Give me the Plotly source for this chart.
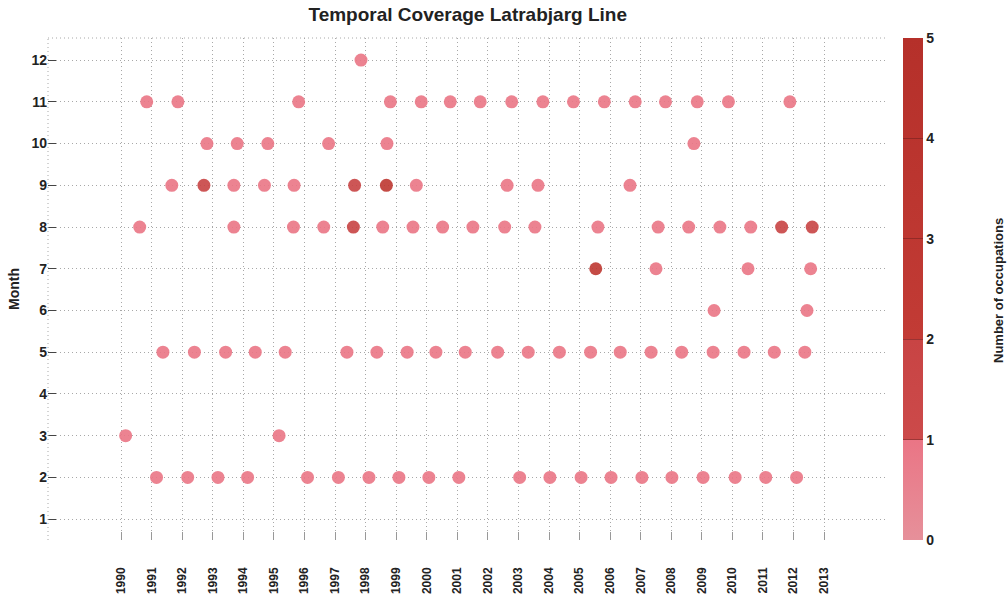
import plotly.graph_objects as go

# ---- data: decimal-year time of each occupation, grouped by month ----
t_m12 = [1997.85]
c_m12 = [1]
t_m11 = [1990.84, 1991.86, 1995.81, 1998.81, 1999.82, 2000.77, 2001.75, 2002.78, 2003.80,
         2004.80, 2005.81, 2006.82, 2007.81, 2008.85, 2009.87, 2011.88]
c_m11 = [1] * 16
t_m10 = [1992.81, 1993.80, 1994.80, 1996.79, 1998.70, 2008.74]
c_m10 = [1, 1, 1, 1, 1, 1]
t_m9 = [1991.66, 1992.71, 1993.69, 1994.69, 1995.66, 1997.64, 1998.68, 1999.66, 2002.63,
        2003.64, 2006.65]
c_m9 = [1, 2, 1, 1, 1, 2, 3, 1, 1, 1, 1]
t_m8 = [1990.61, 1993.69, 1995.64, 1996.63, 1997.60, 1998.56, 1999.55, 2000.52, 2001.51,
        2002.55, 2003.54, 2005.60, 2007.57, 2008.57, 2009.59, 2010.60, 2011.61, 2012.61]
c_m8 = [1, 1, 1, 1, 2, 1, 1, 1, 1, 1, 1, 1, 1, 1, 1, 1, 2, 2]
t_m7 = [2005.53, 2007.50, 2010.51, 2012.56]
c_m7 = [3, 1, 1, 1]
t_m6 = [2009.40, 2012.44]
c_m6 = [1, 1]
t_m5 = [1991.37, 1992.40, 1993.42, 1994.39, 1995.37, 1997.39, 1998.37, 1999.36, 2000.30,
        2001.26, 2002.32, 2003.32, 2004.34, 2005.36, 2006.33, 2007.34, 2008.34, 2009.37,
        2010.38, 2011.37, 2012.37]
c_m5 = [1] * 21
t_m3 = [1990.15, 1995.17]
c_m3 = [1, 1]
t_m2 = [1991.16, 1992.18, 1993.17, 1994.14, 1996.10, 1997.11, 1998.11, 1999.09, 2000.07,
        2001.05, 2003.04, 2004.03, 2005.05, 2006.03, 2007.04, 2008.02, 2009.04, 2010.09,
        2011.09, 2012.10]
c_m2 = [1] * 20

year_ticks = list(range(1990, 2014))
month_ticks = list(range(1, 13))
cbar_ticks = [0, 1, 2, 3, 4, 5]

groups = [(12, t_m12, c_m12), (11, t_m11, c_m11), (10, t_m10, c_m10), (9, t_m9, c_m9),
          (8, t_m8, c_m8), (7, t_m7, c_m7), (6, t_m6, c_m6), (5, t_m5, c_m5),
          (3, t_m3, c_m3), (2, t_m2, c_m2)]

xs, ys, cs = [], [], []
for m, ts, cnt in groups:
    xs += ts
    ys += [m] * len(ts)
    cs += cnt

colorscale = [
    [0.0, "#e6909a"], [0.2, "#ea7585"], [0.2001, "#cc4a4a"],
    [0.4, "#c84444"], [0.4001, "#c23b35"], [1.0, "#b5302a"],
]

FONT = "Liberation Sans, Arial, sans-serif"
GRID = "#a8a8a8"
GDASH = "1px,3px"

fig = go.Figure()
fig.add_trace(go.Scatter(
    x=xs, y=ys, mode="markers",
    marker=dict(
        size=13, color=cs, cmin=0, cmax=5, colorscale=colorscale, opacity=0.9,
        line=dict(width=0),
        colorbar=dict(
            x=1.0179, xanchor="left", xpad=0, y=0, yanchor="bottom", ypad=0,
            len=1.0, lenmode="fraction", thickness=20, outlinewidth=0,
            tickvals=cbar_ticks, ticktext=[str(v) for v in cbar_ticks],
            ticks="inside", ticklen=20, tickcolor="rgba(70,20,20,0.35)",
            tickfont=dict(family=FONT, size=14, color="#222", weight="bold"),
        ),
    ),
    showlegend=False, hoverinfo="skip",
))

fig.update_layout(
    width=1008, height=599,
    margin=dict(l=48, r=120, t=38, b=59),
    paper_bgcolor="white", plot_bgcolor="white",
    title=dict(text="<b>Temporal Coverage Latrabjarg Line</b>",
               x=0.464, xanchor="center", y=1 - 14 / 599, yanchor="middle",
               font=dict(family=FONT, size=19, color="#222")),
    xaxis=dict(
        range=[1987.61, 2015.09], tickvals=year_ticks, ticktext=[str(y) for y in year_ticks],
        tickangle=-90, ticks="inside", ticklen=8, tickcolor="#999",
        ticklabelstandoff=24,
        tickfont=dict(family=FONT, size=12, color="#222", weight="bold"),
        showgrid=True, gridcolor=GRID, griddash=GDASH, gridwidth=1,
        zeroline=False, showline=False, automargin=False,
    ),
    yaxis=dict(
        range=[0.5, 12.53], tickvals=month_ticks, ticks="inside", ticklen=8,
        tickcolor="#444",
        tickfont=dict(family=FONT, size=14, color="#222", weight="bold"),
        showgrid=True, gridcolor=GRID, griddash=GDASH, gridwidth=1,
        zeroline=False, showline=False, automargin=False,
        title=dict(text="<b>Month</b>", font=dict(family=FONT, size=14, color="#222"),
                   standoff=8),
    ),
    shapes=[
        dict(type="line", xref="paper", yref="paper", x0=0, x1=1, y0=1, y1=1,
             line=dict(color=GRID, width=1, dash=GDASH)),
        dict(type="line", xref="paper", yref="paper", x0=0, x1=0, y0=0, y1=1,
             line=dict(color=GRID, width=1, dash=GDASH)),
    ],
    annotations=[
        dict(text="<b>Number of occupations</b>", xref="paper", yref="paper",
             x=(998 - 48) / 840, y=(540 - 291) / 502, xanchor="center", yanchor="middle",
             textangle=-90, showarrow=False,
             font=dict(family=FONT, size=13, color="#222")),
    ],
)

fig.write_html("out.html")
